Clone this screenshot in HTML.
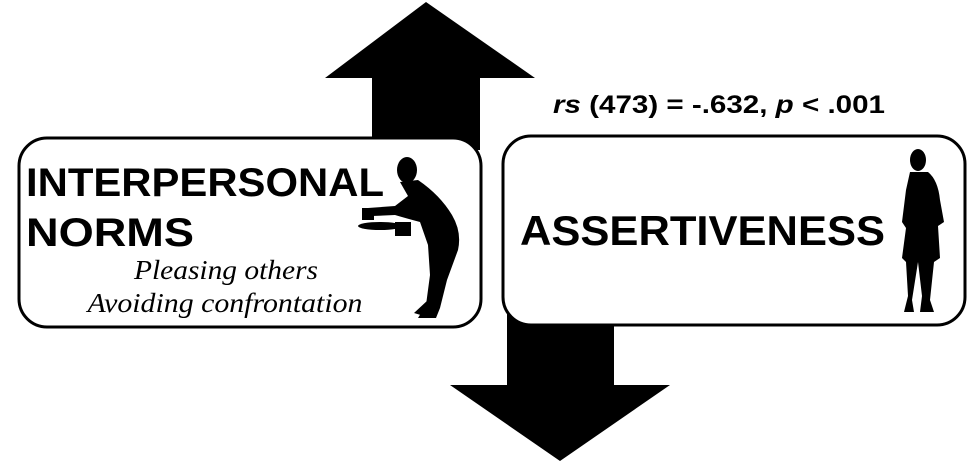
<!DOCTYPE html>
<html><head><meta charset="utf-8"><style>html,body{margin:0;padding:0;background:#fff}svg{display:block}</style></head>
<body>
<svg width="980" height="464" viewBox="0 0 980 464" xmlns="http://www.w3.org/2000/svg">
<rect width="980" height="464" fill="#fff"/>
<polygon points="426,2 535,78 480,78 480,150 372,150 372,78 325,78" fill="#000"/>
<polygon points="507,310 614,310 614,385 670,385 560,461 450,385 507,385" fill="#000"/>
<rect x="19" y="138" width="462" height="189" rx="28" fill="#fff" stroke="#000" stroke-width="3"/>
<rect x="503" y="136" width="462" height="189" rx="28" fill="#fff" stroke="#000" stroke-width="3"/>
<g font-family="Liberation Sans, sans-serif" font-weight="bold" fill="#000">
<text x="26" y="196" font-size="40" textLength="358" lengthAdjust="spacingAndGlyphs">INTERPERSONAL</text>
<text x="26" y="246" font-size="40" textLength="168" lengthAdjust="spacingAndGlyphs">NORMS</text>
<text x="520" y="245" font-size="42" textLength="365" lengthAdjust="spacingAndGlyphs">ASSERTIVENESS</text>
<text x="553" y="113" font-size="25" textLength="332" lengthAdjust="spacingAndGlyphs"><tspan font-style="italic">rs</tspan> (473) = -.632, <tspan font-style="italic">p</tspan> &lt; .001</text>
</g>
<g font-family="Liberation Serif, serif" font-style="italic" font-size="27" fill="#000" text-anchor="middle">
<text x="226" y="279" textLength="184" lengthAdjust="spacingAndGlyphs">Pleasing others</text>
<text x="225" y="312" textLength="275" lengthAdjust="spacingAndGlyphs">Avoiding confrontation</text>
</g>
<g fill="#000">
<ellipse cx="407" cy="170" rx="10" ry="13"/>
<path d="M400,182 L418,180 Q440,195 452,215 Q462,232 458,250 L447,280 L440,308 L436,318 L418,318 L426,305 L430,275 L428,245 L420,222 Q405,218 395,215 L372,216 L368,208 L395,206 L408,196 Z"/>
<path d="M440,255 L435,312 L424,316 L414,313 L428,300 L432,258 Z"/>
<ellipse cx="380" cy="226" rx="22" ry="4"/>
<rect x="362" y="208" width="12" height="12"/>
<rect x="395" y="222" width="16" height="14"/>
</g>
<g fill="#000">
<ellipse cx="918" cy="160" rx="8" ry="11"/>
<path d="M910,172 L928,172 Q938,180 940,200 L944,222 L938,226 L940,258 L934,262 L930,300 L934,312 L920,312 L922,296 L918,262 L912,300 L914,312 L904,312 L908,296 L906,262 L902,258 L906,228 L902,222 L906,190 Z"/>
</g>
</svg>
</body></html>
